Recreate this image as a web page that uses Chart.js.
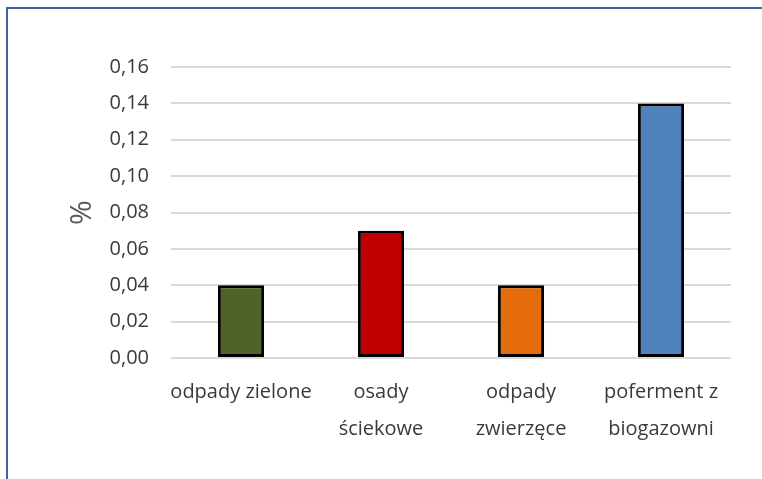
<!DOCTYPE html>
<html lang="pl">
<head>
<meta charset="utf-8">
<title>Udział</title>
<script src="https://cdn.jsdelivr.net/npm/chart.js@4"></script>
<style>
  html, body { margin: 0; padding: 0; background: #fff; }
  #wrap { position: relative; width: 762px; height: 479px; overflow: hidden; }
  #frame {
    position: absolute; left: 6px; top: 7px; width: 800px; height: 520px;
    border-top: 2px solid #41659a; border-left: 2px solid #41659a;
    pointer-events: none;
  }
  canvas { position: absolute; left: 0; top: 0; }
</style>
</head>
<body>
<div id="wrap">
  <canvas id="chart" width="762" height="479"></canvas>
  <div id="frame"></div>
</div>
<script>
const CATEGORIES = [
  ["odpady zielone"],
  ["osady", "ściekowe"],
  ["odpady", "zwierzęce"],
  ["poferment z", "biogazowni"]
];
const VALUES = [0.04, 0.07, 0.04, 0.14];
const COLORS = ["#4f6228", "#c00000", "#e46c0a", "#4f81bd"];
const Y_TICKS = ["0,00", "0,02", "0,04", "0,06", "0,08", "0,10", "0,12", "0,14", "0,16"];

const FONT = "'Open Sans', 'Noto Sans', sans-serif";

new Chart(document.getElementById("chart").getContext("2d"), {
  type: "bar",
  data: {
    labels: CATEGORIES,
    datasets: [{
      data: VALUES,
      backgroundColor: COLORS,
      borderColor: "#000",
      borderWidth: 3,
      borderSkipped: false,
      barPercentage: 0.33,
      categoryPercentage: 1,
    }],
  },
  options: {
    responsive: false,
    animation: false,
    devicePixelRatio: 1,
    layout: { padding: { left: 64, right: 31, top: 67, bottom: 0 } },
    plugins: { legend: { display: false }, tooltip: { enabled: false } },
    scales: {
      x: {
        grid: { display: false, drawTicks: false },
        border: { display: false },
        ticks: {
          color: "#3a3a3a",
          padding: 16,
          maxRotation: 0,
          autoSkip: false,
          font: { family: FONT, size: 20, lineHeight: 1.85 },
        },
        afterFit: s => { s.height = 121; },
      },
      y: {
        min: 0,
        max: 0.16,
        border: { display: false },
        grid: { color: "#d9d9d9", lineWidth: 2, drawTicks: false },
        ticks: {
          stepSize: 0.02,
          padding: 22,
          color: "#3a3a3a",
          font: { family: FONT, size: 20 },
          callback: (v, i) => Y_TICKS[i],
        },
        title: {
          display: true,
          text: "%",
          color: "#595959",
          padding: 0,
          font: { family: FONT, size: 30 },
        },
        afterFit: s => { s.width = 107; },
      },
    },
  },
});
</script>
</body>
</html>
